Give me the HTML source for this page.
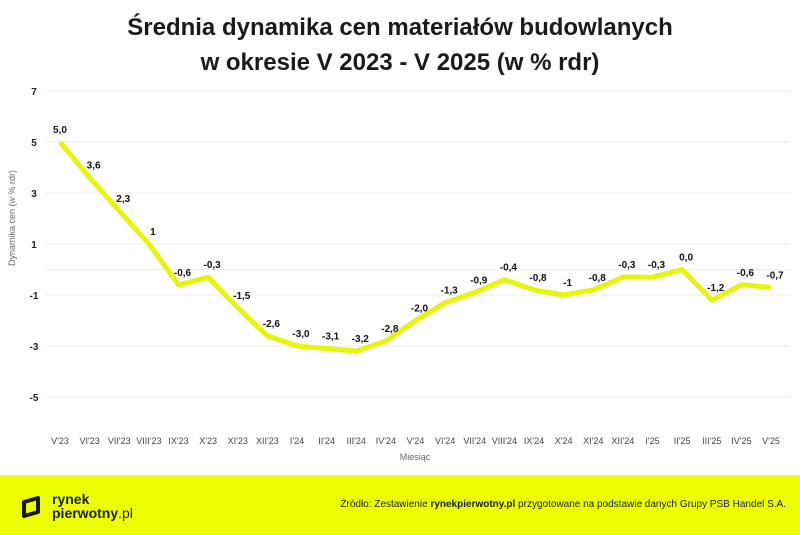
<!DOCTYPE html>
<html><head><meta charset="utf-8">
<style>
body{margin:0;width:800px;height:535px;overflow:hidden;background:#fff;font-family:"Liberation Sans",sans-serif;}
#title{position:absolute;left:0;top:10px;width:800px;text-align:center;font-weight:bold;font-size:24px;line-height:35px;color:#1a1a1a;}
#footer{position:absolute;left:0;top:475px;width:800px;height:60px;background:#ebff00;}
</style></head><body>
<div id="title">Średnia dynamika cen materiałów budowlanych<br>w okresie V 2023 - V 2025 (w % rdr)</div>
<svg id="chart" width="800" height="475" style="position:absolute;left:0;top:0">
<text transform="translate(15,218) rotate(-90)" text-anchor="middle" font-size="9" fill="#666">Dynamika cen (w % rdr)</text>
<text x="415" y="460" text-anchor="middle" font-size="9" fill="#666">Miesiąc</text>
<g id="grid"></g><g id="xt"></g><path id="line" fill="none" stroke="#e6f50a" stroke-width="5" stroke-linejoin="round"></path><g id="lbl"></g>
</svg>
<div id="footer">
<svg width="22" height="22" style="position:absolute;left:20px;top:21px"><path d="M4 6 L18 2 L18 16 L4 20 Z" fill="none" stroke="#1a1a1a" stroke-width="4" stroke-linejoin="round"/></svg>
<div style="position:absolute;left:52px;top:17px;font-size:14px;line-height:14px;color:#1a1a1a;font-weight:bold">rynek<br>pierwotny<span style="font-weight:normal">.pl</span></div>
<div style="position:absolute;right:14px;top:24px;font-size:10px;color:#1a1a1a">Źródło: Zestawienie <b>rynekpierwotny.pl</b> przygotowane na podstawie danych Grupy PSB Handel S.A.</div>
</div>
<script>
const categories=["V'23","VI'23","VII'23","VIII'23","IX'23","X'23","XI'23","XII'23","I'24","II'24","III'24","IV'24","V'24","VI'24","VII'24","VIII'24","IX'24","X'24","XI'24","XII'24","I'25","II'25","III'25","IV'25","V'25"];
const values=[5.0,3.6,2.3,1,-0.6,-0.3,-1.5,-2.6,-3.0,-3.1,-3.2,-2.8,-2.0,-1.3,-0.9,-0.4,-0.8,-1,-0.8,-0.3,-0.3,0.0,-1.2,-0.6,-0.7];
const valueLabels=["5,0","3,6","2,3","1","-0,6","-0,3","-1,5","-2,6","-3,0","-3,1","-3,2","-2,8","-2,0","-1,3","-0,9","-0,4","-0,8","-1","-0,8","-0,3","-0,3","0,0","-1,2","-0,6","-0,7"];
const yTicks=[7,5,3,1,-1,-3,-5];
const NS="http://www.w3.org/2000/svg";
const x0=60,x1=771,yTop=91,yBot=397,vMax=7,vMin=-5;
const xs=i=>x0+(x1-x0)*i/(categories.length-1);
const ys=v=>yTop+(vMax-v)*(yBot-yTop)/(vMax-vMin);
const grid=document.getElementById('grid');
function mk(tag,attrs,parent,txt){const e=document.createElementNS(NS,tag);for(const k in attrs)e.setAttribute(k,attrs[k]);if(txt!==undefined)e.textContent=txt;parent.appendChild(e);return e;}
yTicks.concat([0]).forEach(t=>{const l=mk('line',{x1:45,x2:790,y1:ys(t),y2:ys(t),stroke:'#eeeeee','stroke-width':1},grid);

});
yTicks.forEach(t=>{const e=mk('text',{x:34,y:ys(t)+4,'text-anchor':'middle','font-size':10,'font-weight':'bold',fill:'#222'},grid,String(t));

});
const xt=document.getElementById('xt');
categories.forEach((c,i)=>{const e=mk('text',{x:xs(i),y:444,'text-anchor':'middle','font-size':9,fill:'#444'},xt,c);

});
document.getElementById('line').setAttribute('d',values.map((v,i)=>(i?'L':'M')+xs(i)+' '+ys(v)).join(' '));
const lbl=document.getElementById('lbl');
values.forEach((v,i)=>{const e=mk('text',{x:xs(i)+(i==0?0:4),y:ys(v)-9,'text-anchor':'middle','font-size':10,'font-weight':'bold',fill:'#111'},lbl,valueLabels[i]);

});
</script>
</body></html>
